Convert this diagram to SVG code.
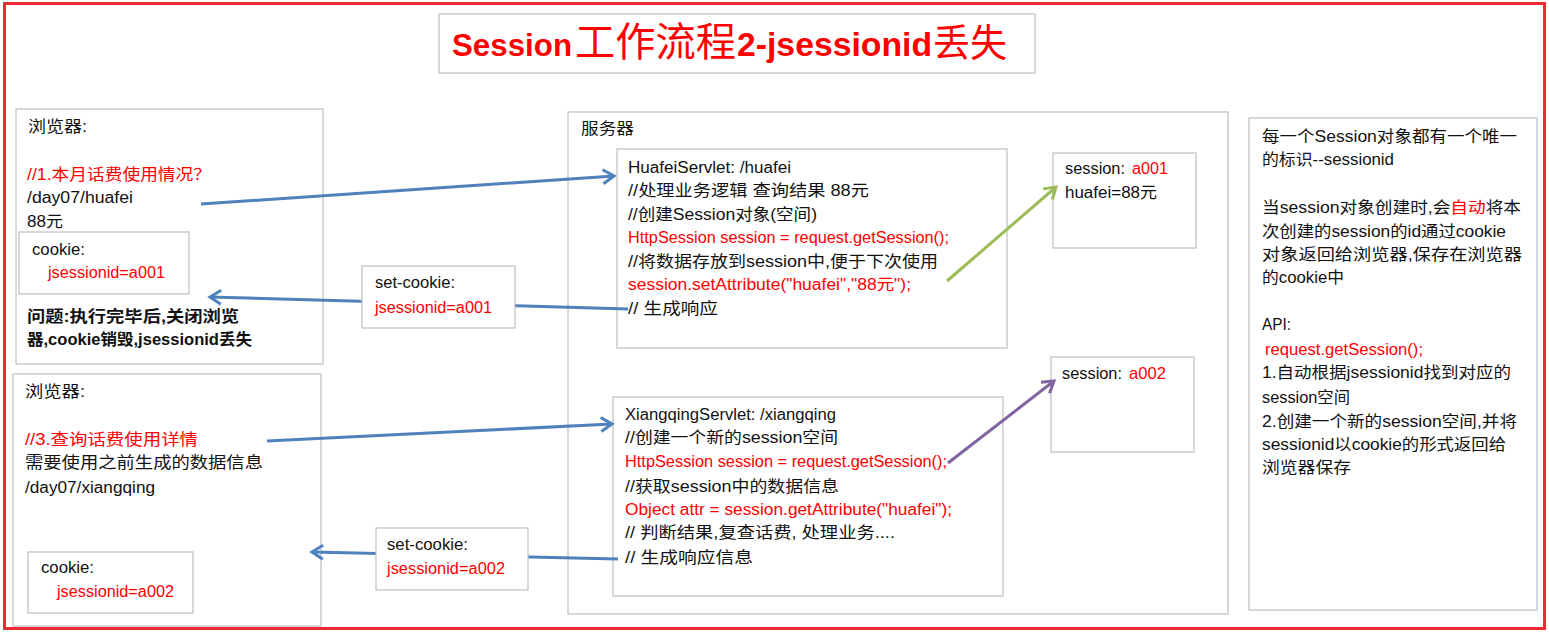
<svg xmlns="http://www.w3.org/2000/svg" width="1549" height="634" viewBox="0 0 1549 634">
<style>
.box{fill:#fff;stroke:#bfbfbf;stroke-width:1.2}
.t{font-family:"Liberation Sans","Noto Sans CJK SC",sans-serif;font-size:16px;fill:#111}
.r{fill:#ff0000}
.b{font-weight:bold}
.title{font-family:"Liberation Sans","Noto Sans CJK SC",sans-serif;fill:#ff0000}
.blue{stroke:#4f81bd;stroke-width:3;fill:none}
.green{stroke:#9bbb59;stroke-width:3;fill:none}
.purple{stroke:#8064a2;stroke-width:3;fill:none}
</style>
<defs>
<marker id="ab" markerUnits="userSpaceOnUse" markerWidth="20" markerHeight="20" refX="0" refY="0" viewBox="-14 -10 16 20" orient="auto"><path d="M-11,-7 L0,0 L-11,7" fill="none" stroke="#4f81bd" stroke-width="3"/></marker>
<marker id="ag" markerUnits="userSpaceOnUse" markerWidth="20" markerHeight="20" refX="0" refY="0" viewBox="-14 -10 16 20" orient="auto"><path d="M-11,-7 L0,0 L-11,7" fill="none" stroke="#9bbb59" stroke-width="3"/></marker>
<marker id="ap" markerUnits="userSpaceOnUse" markerWidth="20" markerHeight="20" refX="0" refY="0" viewBox="-14 -10 16 20" orient="auto"><path d="M-11,-7 L0,0 L-11,7" fill="none" stroke="#8064a2" stroke-width="3"/></marker>
</defs>
<rect x="0" y="0" width="1549" height="634" fill="#fff"/>
<rect x="4.5" y="3.5" width="1540" height="625" fill="none" stroke="#ee2a33" stroke-width="3"/>

<g id="title">
<rect class="box" x="439" y="14" width="596" height="59"/>
<text class="title" x="452" y="56" font-size="32" font-weight="bold" textLength="120" lengthAdjust="spacingAndGlyphs">Session</text>
<text class="title" x="575" y="56" font-size="40" textLength="161" lengthAdjust="spacingAndGlyphs">工作流程</text>
<text class="title" x="737" y="56" font-size="33" font-weight="bold" textLength="195" lengthAdjust="spacingAndGlyphs">2-jsessionid</text>
<text class="title" x="933" y="56" font-size="38" textLength="74" lengthAdjust="spacingAndGlyphs">丢失</text>
</g>

<g id="server">
<rect class="box" x="568" y="112" width="660" height="502"/>
<text class="t" x="581" y="134" textLength="53" lengthAdjust="spacingAndGlyphs">服务器</text>
</g>

<g id="browser1">
<rect class="box" x="16" y="109" width="307" height="255"/>
<text class="t" x="28" y="132" textLength="59" lengthAdjust="spacingAndGlyphs">浏览器:</text>
<text class="t r" x="27" y="180" textLength="184" lengthAdjust="spacingAndGlyphs">//1.本月话费使用情况？</text>
<text class="t" x="27" y="203" textLength="106" lengthAdjust="spacingAndGlyphs">/day07/huafei</text>
<text class="t" x="27" y="227" textLength="36" lengthAdjust="spacingAndGlyphs">88元</text>
<text class="t b" x="27" y="322" textLength="212" lengthAdjust="spacingAndGlyphs">问题:执行完毕后,关闭浏览</text>
<text class="t b" x="27" y="345" textLength="225" lengthAdjust="spacingAndGlyphs">器,cookie销毁,jsessionid丢失</text>
</g>
<g id="cookie1">
<rect class="box" x="19" y="232" width="170" height="62"/>
<text class="t" x="32" y="255" textLength="53" lengthAdjust="spacingAndGlyphs">cookie:</text>
<text class="t r" x="48" y="278" textLength="117" lengthAdjust="spacingAndGlyphs">jsessionid=a001</text>
</g>

<g id="browser2">
<rect class="box" x="13" y="374" width="308" height="252"/>
<text class="t" x="25" y="397" textLength="60" lengthAdjust="spacingAndGlyphs">浏览器:</text>
<text class="t r" x="25" y="445" textLength="173" lengthAdjust="spacingAndGlyphs">//3.查询话费使用详情</text>
<text class="t" x="25" y="468" textLength="238" lengthAdjust="spacingAndGlyphs">需要使用之前生成的数据信息</text>
<text class="t" x="25" y="493" textLength="130" lengthAdjust="spacingAndGlyphs">/day07/xiangqing</text>
</g>
<g id="cookie2">
<rect class="box" x="28" y="552" width="165" height="61"/>
<text class="t" x="41" y="573" textLength="53" lengthAdjust="spacingAndGlyphs">cookie:</text>
<text class="t r" x="57" y="597" textLength="117" lengthAdjust="spacingAndGlyphs">jsessionid=a002</text>
</g>

<g id="huafeiServlet">
<rect class="box" x="617" y="149" width="390" height="199"/>
<text class="t" x="628" y="173" textLength="163" lengthAdjust="spacingAndGlyphs">HuafeiServlet: /huafei</text>
<text class="t" x="628" y="196" textLength="241" lengthAdjust="spacingAndGlyphs">//处理业务逻辑 查询结果 88元</text>
<text class="t" x="628" y="220" textLength="189" lengthAdjust="spacingAndGlyphs">//创建Session对象(空间)</text>
<text class="t r" x="628" y="243" textLength="321" lengthAdjust="spacingAndGlyphs">HttpSession session = request.getSession();</text>
<text class="t" x="628" y="267" textLength="310" lengthAdjust="spacingAndGlyphs">//将数据存放到session中,便于下次使用</text>
<text class="t r" x="628" y="290" textLength="283" lengthAdjust="spacingAndGlyphs">session.setAttribute("huafei","88元");</text>
<text class="t" x="628" y="314" textLength="90" lengthAdjust="spacingAndGlyphs">// 生成响应</text>
</g>
<g id="session1">
<rect class="box" x="1053" y="153" width="143" height="95"/>
<text class="t" x="1065" y="174" textLength="60" lengthAdjust="spacingAndGlyphs">session:</text>
<text class="t r" x="1132" y="174" textLength="36" lengthAdjust="spacingAndGlyphs">a001</text>
<text class="t" x="1065" y="198" textLength="92" lengthAdjust="spacingAndGlyphs">huafei=88元</text>
</g>

<g id="xiangqingServlet">
<rect class="box" x="613" y="397" width="390" height="199"/>
<text class="t" x="625" y="420" textLength="211" lengthAdjust="spacingAndGlyphs">XiangqingServlet: /xiangqing</text>
<text class="t" x="625" y="443" textLength="213" lengthAdjust="spacingAndGlyphs">//创建一个新的session空间</text>
<text class="t r" x="625" y="467" textLength="322" lengthAdjust="spacingAndGlyphs">HttpSession session = request.getSession();</text>
<text class="t" x="625" y="492" textLength="214" lengthAdjust="spacingAndGlyphs">//获取session中的数据信息</text>
<text class="t r" x="625" y="515" textLength="327" lengthAdjust="spacingAndGlyphs">Object attr = session.getAttribute("huafei");</text>
<text class="t" x="625" y="538" textLength="270" lengthAdjust="spacingAndGlyphs">// 判断结果,复查话费, 处理业务....</text>
<text class="t" x="625" y="563" textLength="128" lengthAdjust="spacingAndGlyphs">// 生成响应信息</text>
</g>
<g id="session2">
<rect class="box" x="1051" y="357" width="143" height="95"/>
<text class="t" x="1062" y="379" textLength="60" lengthAdjust="spacingAndGlyphs">session:</text>
<text class="t r" x="1129" y="379" textLength="37" lengthAdjust="spacingAndGlyphs">a002</text>
</g>

<g id="notes">
<rect class="box" x="1249" y="118" width="288" height="492"/>
<text class="t" x="1262" y="142" textLength="255" lengthAdjust="spacingAndGlyphs">每一个Session对象都有一个唯一</text>
<text class="t" x="1262" y="165" textLength="132" lengthAdjust="spacingAndGlyphs">的标识--sessionid</text>
<text class="t" x="1262" y="213" textLength="259" lengthAdjust="spacingAndGlyphs">当session对象创建时,会<tspan class="r">自动</tspan>将本</text>
<text class="t" x="1262" y="237" textLength="244" lengthAdjust="spacingAndGlyphs">次创建的session的id通过cookie</text>
<text class="t" x="1262" y="260" textLength="260" lengthAdjust="spacingAndGlyphs">对象返回给浏览器,保存在浏览器</text>
<text class="t" x="1262" y="283" textLength="82" lengthAdjust="spacingAndGlyphs">的cookie中</text>
<text class="t" x="1262" y="330" textLength="29" lengthAdjust="spacingAndGlyphs">API:</text>
<text class="t r" x="1265" y="355" textLength="158" lengthAdjust="spacingAndGlyphs">request.getSession();</text>
<text class="t" x="1262" y="378" textLength="249" lengthAdjust="spacingAndGlyphs">1.自动根据jsessionid找到对应的</text>
<text class="t" x="1262" y="403" textLength="88" lengthAdjust="spacingAndGlyphs">session空间</text>
<text class="t" x="1262" y="427" textLength="255" lengthAdjust="spacingAndGlyphs">2.创建一个新的session空间,并将</text>
<text class="t" x="1262" y="450" textLength="244" lengthAdjust="spacingAndGlyphs">sessionid以cookie的形式返回给</text>
<text class="t" x="1262" y="473" textLength="89" lengthAdjust="spacingAndGlyphs">浏览器保存</text>
</g>

<g id="connectors">
<path class="blue" d="M201,204 L614,176" marker-end="url(#ab)"/>
<path class="blue" d="M628,309 L210,297" marker-end="url(#ab)"/>
<path class="blue" d="M267,441 L612,424" marker-end="url(#ab)"/>
<path class="blue" d="M618,559 L312,552" marker-end="url(#ab)"/>
<path class="green" d="M947,281 L1056,187" marker-end="url(#ag)"/>
<path class="purple" d="M948,463 L1054,381" marker-end="url(#ap)"/>
</g>

<g id="setcookie1">
<rect class="box" x="362" y="266" width="153" height="62"/>
<text class="t" x="375" y="288" textLength="80" lengthAdjust="spacingAndGlyphs">set-cookie:</text>
<text class="t r" x="375" y="313" textLength="117" lengthAdjust="spacingAndGlyphs">jsessionid=a001</text>
</g>
<g id="setcookie2">
<rect class="box" x="376" y="528" width="152" height="62"/>
<text class="t" x="387" y="550" textLength="81" lengthAdjust="spacingAndGlyphs">set-cookie:</text>
<text class="t r" x="387" y="574" textLength="118" lengthAdjust="spacingAndGlyphs">jsessionid=a002</text>
</g>
</svg>
